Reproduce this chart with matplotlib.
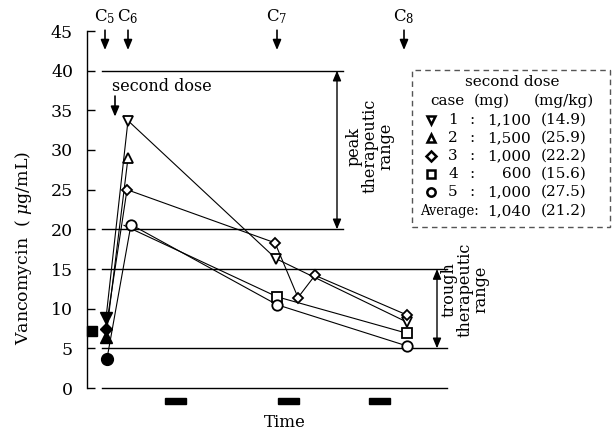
import numpy as np
import matplotlib
matplotlib.use("Agg")
import matplotlib.pyplot as plt
from matplotlib.patches import Rectangle

plt.rcParams['font.family'] = ['DejaVu Serif']
plt.rcParams['mathtext.fontset'] = 'dejavuserif'

# time positions (arbitrary units) and vancomycin levels
sample_names = ['C$_5$', 'C$_6$', 'C$_7$', 'C$_8$']
sample_times = [1.8, 4.1, 19.0, 31.7]

case1_t = [1.9, 4.1, 18.9, 32.0]
case1_v = [8.8, 33.7, 16.3, 8.3]
case2_t = [1.9, 4.1]
case2_v = [6.4, 29.0]
case3_t = [1.9, 4.0, 18.8, 21.1, 22.8, 32.0]
case3_v = [7.5, 25.0, 18.3, 11.4, 14.2, 9.2]
case4_t = [3.7, 19.0, 32.0]
case4_v = [20.5, 11.5, 6.9]
case4_pre_t = [0.5]
case4_pre_v = [7.2]
case5_t = [2.0, 4.4, 19.0, 32.0]
case5_v = [3.7, 20.6, 10.5, 5.3]

dose_starts = [7.8, 19.1, 28.2]
dose_len = 2.1

cases = ['1', '2', '3', '4', '5']
dose_mg = ['1,100', '1,500', '1,000', '600', '1,000']
dose_mgkg = ['14.9', '25.9', '22.2', '15.6', '27.5']
avg_mg = '1,040'
avg_mgkg = '21.2'

W, H = 616, 436
fig = plt.figure(figsize=(W / 100, H / 100), dpi=100)
ax = fig.add_axes([87 / W, (H - 388) / H, 360 / W, 357 / H])
ax.set_xlim(0, 36)
ax.set_ylim(0, 45)

def fx(px):
    return px / W

def fy(py):
    return 1 - py / H

# reference lines
for yv, x1 in [(40, 25.6), (20, 25.6), (15, 36), (5, 36), (0, 36)]:
    ax.plot([1.5, x1], [yv, yv], color='k', lw=1.0, clip_on=False, zorder=1)

series = [
    (case1_t, case1_v, 'v'),
    (case2_t, case2_v, '^'),
    (case3_t, case3_v, 'D'),
    (case4_t, case4_v, 's'),
    (case5_t, case5_v, 'o'),
]
for t, v, m in series:
    ax.plot(t, v, color='k', lw=0.8, zorder=2)
    ms = 5.5 if m == 'D' else 7.5
    ax.plot(t[1:], v[1:], ls='none', marker=m, ms=ms, mfc='white', mec='k', mew=1.3, zorder=3)
    if m != 's':
        ax.plot(t[:1], v[:1], ls='none', marker=m, ms=ms + 1, mfc='k', mec='k', zorder=3)
ax.plot(case4_pre_t, case4_pre_v, ls='none', marker='s', ms=7.5, color='k', clip_on=False, zorder=3)

# dosing bars
for s in dose_starts:
    ax.add_patch(Rectangle((s, -2.0), dose_len, 0.8, color='k', clip_on=False))

# sampling arrows
arr = dict(arrowstyle='-|>,head_length=0.6,head_width=0.25', color='k', lw=1.2,
           shrinkA=0, shrinkB=0)
for name, t in zip(sample_names, sample_times):
    ax.annotate('', xy=(t, 42.6), xytext=(t, 45.1), arrowprops=arr, annotation_clip=False)
    ax.text(t, 46.8, name, ha='center', va='center', fontsize=12, clip_on=False)

ax.text(2.5, 38.0, 'second dose', ha='left', va='center', fontsize=11.5)
ax.annotate('', xy=(2.8, 34.2), xytext=(2.8, 36.8), arrowprops=arr)

darr = dict(arrowstyle='<|-|>,head_length=0.6,head_width=0.25', color='k', lw=1.0,
            shrinkA=0, shrinkB=0)
ax.annotate('', xy=(25.0, 40), xytext=(25.0, 20), arrowprops=darr)
ax.text(28.3, 30.5, 'peak\ntherapeutic\nrange', rotation=90, ha='center', va='center',
        fontsize=11.5, linespacing=0.95)
ax.annotate('', xy=(35.0, 15), xytext=(35.0, 5), arrowprops=darr, annotation_clip=False)
ax.text(37.8, 12.4, 'trough\ntherapeutic\nrange', rotation=90, ha='center', va='center',
        fontsize=11.5, linespacing=0.95, clip_on=False)

# axes styling
for side in ['top', 'right', 'bottom']:
    ax.spines[side].set_visible(False)
ax.spines['left'].set_linewidth(1.0)
ax.set_xticks([])
ax.set_yticks(np.arange(0, 46, 5))
ax.tick_params(axis='y', direction='in', length=6, width=1.0, pad=10, labelsize=12.5)

fig.text(fx(285), fy(422), 'Time', ha='center', va='center', fontsize=12)
fig.text(fx(24), fy(248), 'Vancomycin  ( $\\mu$g/mL)', rotation=90, ha='center', va='center',
         fontsize=12.5)

# dose table box
box = Rectangle((fx(412), fy(227)), fx(610) - fx(412), fy(70) - fy(227), transform=fig.transFigure,
                fill=False, ls=(0, (4, 3)), lw=1.0, ec='#555555')
fig.patches.append(box)
fs = 11
fig.text(fx(512), fy(82), 'second dose', ha='center', va='center', fontsize=fs)
fig.text(fx(447), fy(101), 'case', ha='center', va='center', fontsize=fs)
fig.text(fx(492), fy(101), '(mg)', ha='center', va='center', fontsize=fs)
fig.text(fx(564), fy(101), '(mg/kg)', ha='center', va='center', fontsize=fs)
marks = ['v', '^', 'D', 's', 'o']
for i in range(len(cases)):
    yy = 120 + 18 * i
    ms = 5 if marks[i] == 'D' else 6
    fig.lines.append(plt.Line2D([fx(431)], [fy(yy)], transform=fig.transFigure, ls='none',
                                marker=marks[i], ms=ms, mfc='white', mec='k', mew=1.8))
    fig.text(fx(453), fy(yy), cases[i], ha='center', va='center', fontsize=fs)
    fig.text(fx(472), fy(yy), ':', ha='center', va='center', fontsize=fs)
    fig.text(fx(531), fy(yy), dose_mg[i], ha='right', va='center', fontsize=fs)
    fig.text(fx(564), fy(yy), '(' + dose_mgkg[i] + ')', ha='center', va='center', fontsize=fs)
fig.text(fx(449), fy(211), 'Average:', ha='center', va='center', fontsize=10.5, stretch='condensed')
fig.text(fx(531), fy(211), avg_mg, ha='right', va='center', fontsize=fs)
fig.text(fx(564), fy(211), '(' + avg_mgkg + ')', ha='center', va='center', fontsize=fs)

fig.savefig('out.png', dpi=100)
